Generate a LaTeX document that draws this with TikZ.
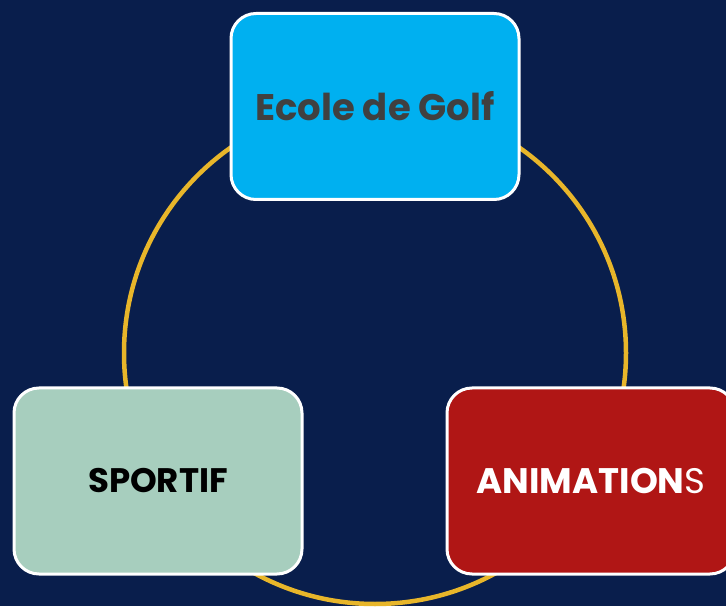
\documentclass[tikz,border=0pt]{standalone}
\usepackage{fontspec}
\setmainfont{Poppins}
\newfontfamily\poppins{Poppins}
\definecolor{bgnavy}{RGB}{9,30,76}
\definecolor{arcgold}{RGB}{232,182,42}
\definecolor{golfblue}{RGB}{0,176,240}
\definecolor{sportgreen}{RGB}{167,206,190}
\definecolor{animred}{RGB}{176,22,21}
\definecolor{txtgray}{RGB}{64,64,64}
\begin{document}
\begin{tikzpicture}[x=1pt,y=1pt,
  box/.style={draw=white, line width=3pt, rounded corners=25pt, minimum width=288pt, minimum height=186pt, inner sep=0pt},
  lbl/.style={font=\poppins\bfseries}]
\useasboundingbox (0,0) rectangle (726,606);
\fill[bgnavy] (0,0) rectangle (726,606);
\clip (0,0) rectangle (726,606);
\coordinate (c) at (375,253);
\draw[arcgold, line width=4.5pt] (c) circle[radius=251];
\node[box, fill=golfblue, text=txtgray, lbl] (golf) at (375,499.5) {\fontsize{37}{44}\selectfont Ecole de Golf};
\node[box, fill=sportgreen, text=black, lbl] (sport) at (158,125) {\fontsize{34}{40}\selectfont SPORTIF};
\node[box, fill=animred, text=white, lbl] (anim) at (591,125) {};
\node[lbl, text=white, anchor=center] (animtxt) at (591,125) {\fontsize{35.5}{42}\selectfont ANIMATION{\mdseries\fontseries{l}\selectfont S}};
\end{tikzpicture}
\end{document}
